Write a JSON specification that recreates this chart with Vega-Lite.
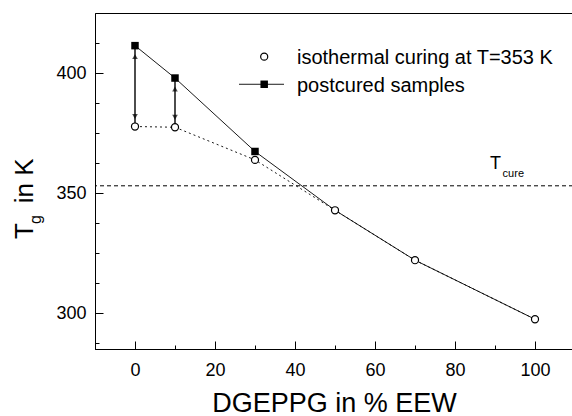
{
  "$schema": "https://vega.github.io/schema/vega-lite/v6.json",
  "width": 478,
  "height": 336,
  "padding": {"left": 95, "top": 13, "right": 0, "bottom": 67},
  "autosize": {"type": "none"},
  "config": {
    "view": {"stroke": "black", "strokeWidth": 1},
    "font": "Liberation Sans",
    "axis": {"grid": false, "domainColor": "black", "tickColor": "black", "labelColor": "black", "titleColor": "black", "labelFont": "Liberation Sans", "titleFont": "Liberation Sans", "titleFontWeight": "normal", "labelOverlap": false, "labelBound": false, "labelFlush": false}
  },
  "data": {"values": [{}]},
  "datasets": {
    "tg": [
      {"pct": 0, "series": "isothermal", "tg": 377.7},
      {"pct": 10, "series": "isothermal", "tg": 377.4},
      {"pct": 30, "series": "isothermal", "tg": 363.8},
      {"pct": 50, "series": "isothermal", "tg": 342.8},
      {"pct": 70, "series": "isothermal", "tg": 322.0},
      {"pct": 100, "series": "isothermal", "tg": 297.4},
      {"pct": 0, "series": "postcured", "tg": 411.4},
      {"pct": 10, "series": "postcured", "tg": 397.9},
      {"pct": 30, "series": "postcured", "tg": 367.3},
      {"pct": 50, "series": "postcured", "tg": 342.8},
      {"pct": 70, "series": "postcured", "tg": 322.0},
      {"pct": 100, "series": "postcured", "tg": 297.4}
    ],
    "arrows": [
      {"pct": 0, "lo": 377.7, "hi": 411.4},
      {"pct": 10, "lo": 377.4, "hi": 397.9}
    ]
  },
  "layer": [
    {
      "data": {"name": "tg"},
      "transform": [{"filter": "datum.series === 'isothermal'"}],
      "mark": {"type": "line", "color": "black", "strokeWidth": 0.9, "strokeDash": [2, 3]},
      "encoding": {
        "x": {"field": "pct", "type": "quantitative", "scale": {"domain": [-10, 109.5], "nice": false, "zero": false},
          "axis": {
            "values": [-10, 0, 10, 20, 30, 40, 50, 60, 70, 80, 90, 100],
            "tickCount": 30,
            "labelExpr": "datum.value % 20 === 0 ? datum.label : ''",
            "tickSize": {"condition": {"test": "datum.value % 20 === 0", "value": -8}, "value": -4},
            "labelPadding": 20,
            "labelFontSize": 18,
            "title": "DGEPPG in % EEW",
            "titleFontSize": 27,
            "titlePadding": 7
          }},
        "y": {"field": "tg", "type": "quantitative", "scale": {"domain": [285, 425], "nice": false, "zero": false},
          "axis": {
            "values": [287.5, 300, 312.5, 325, 337.5, 350, 362.5, 375, 387.5, 400, 412.5],
            "tickCount": 30,
            "labelExpr": "datum.value % 50 === 0 ? datum.label : ''",
            "tickSize": {"condition": {"test": "datum.value % 50 === 0", "value": -8}, "value": -4},
            "labelPadding": 17,
            "labelFontSize": 18,
            "title": null
          }}
      }
    },
    {
      "mark": {"type": "rule", "color": "black", "strokeWidth": 1, "strokeDash": [4, 3]},
      "encoding": {"y": {"datum": 353}}
    },
    {
      "data": {"name": "tg"},
      "transform": [{"filter": "datum.series === 'postcured'"}],
      "mark": {"type": "line", "color": "black", "strokeWidth": 0.9},
      "encoding": {
        "x": {"field": "pct", "type": "quantitative"},
        "y": {"field": "tg", "type": "quantitative"}
      }
    },
    {
      "data": {"name": "arrows"},
      "mark": {"type": "rule", "color": "black", "strokeWidth": 1.4},
      "encoding": {
        "x": {"field": "pct", "type": "quantitative"},
        "y": {"field": "lo", "type": "quantitative"},
        "y2": {"field": "hi"}
      }
    },
    {
      "data": {"name": "arrows"},
      "mark": {"type": "point", "shape": "triangle-up", "filled": true, "color": "black", "size": 32, "yOffset": 11},
      "encoding": {
        "x": {"field": "pct", "type": "quantitative"},
        "y": {"field": "hi", "type": "quantitative"}
      }
    },
    {
      "data": {"name": "arrows"},
      "mark": {"type": "point", "shape": "triangle-down", "filled": true, "color": "black", "size": 32, "yOffset": -10},
      "encoding": {
        "x": {"field": "pct", "type": "quantitative"},
        "y": {"field": "lo", "type": "quantitative"}
      }
    },
    {
      "data": {"name": "tg"},
      "transform": [{"filter": "datum.series === 'postcured' && datum.pct <= 30"}],
      "mark": {"type": "point", "shape": "square", "filled": true, "color": "black", "size": 56, "opacity": 1},
      "encoding": {
        "x": {"field": "pct", "type": "quantitative"},
        "y": {"field": "tg", "type": "quantitative"}
      }
    },
    {
      "data": {"name": "tg"},
      "transform": [{"filter": "datum.series === 'isothermal'"}],
      "mark": {"type": "point", "shape": "circle", "fill": "white", "stroke": "black", "strokeWidth": 1.2, "size": 50, "opacity": 1},
      "encoding": {
        "x": {"field": "pct", "type": "quantitative"},
        "y": {"field": "tg", "type": "quantitative"}
      }
    },
    {
      "mark": {"type": "point", "shape": "circle", "fill": "white", "stroke": "black", "strokeWidth": 1.2, "size": 50, "opacity": 1},
      "encoding": {"x": {"datum": 32.3}, "y": {"datum": 406.8}}
    },
    {
      "mark": {"type": "rule", "color": "black", "strokeWidth": 0.9},
      "encoding": {"x": {"datum": 26}, "x2": {"datum": 37.25}, "y": {"datum": 395.3}}
    },
    {
      "mark": {"type": "point", "shape": "square", "filled": true, "color": "black", "size": 56, "opacity": 1},
      "encoding": {"x": {"datum": 32.3}, "y": {"datum": 395.3}}
    },
    {
      "mark": {"type": "text", "text": "isothermal curing at T=353 K", "fontSize": 20, "align": "left", "baseline": "alphabetic", "color": "black"},
      "encoding": {"x": {"datum": 40.5}, "y": {"datum": 403.6}}
    },
    {
      "mark": {"type": "text", "text": "postcured samples", "fontSize": 20, "align": "left", "baseline": "alphabetic", "color": "black"},
      "encoding": {"x": {"datum": 40.5}, "y": {"datum": 392.2}}
    },
    {
      "mark": {"type": "text", "text": "T", "fontSize": 18, "align": "left", "baseline": "alphabetic", "color": "black"},
      "encoding": {"x": {"datum": 88.75}, "y": {"datum": 359.9}}
    },
    {
      "mark": {"type": "text", "text": "cure", "fontSize": 11, "align": "left", "baseline": "alphabetic", "color": "black"},
      "encoding": {"x": {"datum": 91.9}, "y": {"datum": 356.8}}
    },
    {
      "mark": {"type": "text", "text": "T", "fontSize": 26, "angle": 270, "align": "left", "baseline": "alphabetic", "color": "black"},
      "encoding": {"x": {"datum": -25.5}, "y": {"datum": 330.8}}
    },
    {
      "mark": {"type": "text", "text": "g", "fontSize": 16, "angle": 270, "align": "left", "baseline": "alphabetic", "color": "black"},
      "encoding": {"x": {"datum": -23.5}, "y": {"datum": 337.1}}
    },
    {
      "mark": {"type": "text", "text": "in K", "fontSize": 26, "angle": 270, "align": "left", "baseline": "alphabetic", "color": "black"},
      "encoding": {"x": {"datum": -25.5}, "y": {"datum": 345.7}}
    }
  ]
}
